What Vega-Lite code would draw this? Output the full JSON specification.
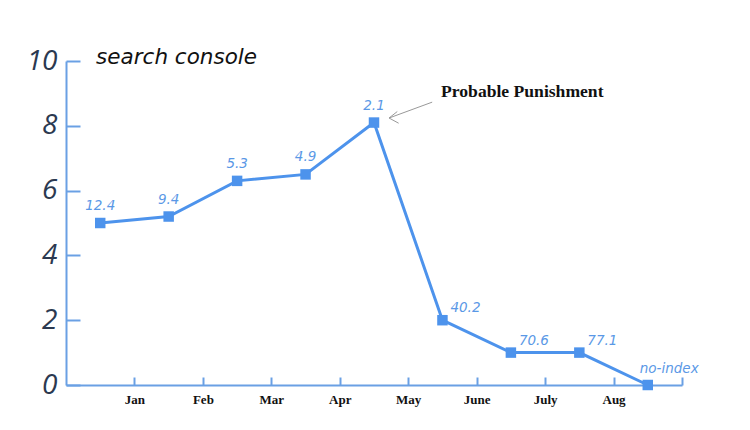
{
  "$schema": "https://vega.github.io/schema/vega-lite/v6.json",
  "width": 616,
  "height": 324,
  "autosize": {"type": "none"},
  "padding": {"left": 66, "top": 61, "right": 68, "bottom": 45},
  "background": "white",
  "config": {"view": {"stroke": null}},
  "datasets": {
    "series": [
      {"pos": 0.5, "value": 5.0, "label": "12.4", "group": "above"},
      {"pos": 1.5, "value": 5.2, "label": "9.4", "group": "above"},
      {"pos": 2.5, "value": 6.3, "label": "5.3", "group": "above"},
      {"pos": 3.5, "value": 6.5, "label": "4.9", "group": "above"},
      {"pos": 4.5, "value": 8.1, "label": "2.1", "group": "above"},
      {"pos": 5.5, "value": 2.0, "label": "40.2", "group": "right"},
      {"pos": 6.5, "value": 1.0, "label": "70.6", "group": "right"},
      {"pos": 7.5, "value": 1.0, "label": "77.1", "group": "right"},
      {"pos": 8.5, "value": 0.0, "label": "no-index", "group": "end"}
    ],
    "arrow": [
      {"x": 5.35, "y": 8.73, "x2": 4.72, "y2": 8.24},
      {"x": 4.84, "y": 8.44, "x2": 4.72, "y2": 8.24},
      {"x": 4.86, "y": 8.08, "x2": 4.72, "y2": 8.24}
    ]
  },
  "layer": [
    {
      "data": {"name": "series"},
      "mark": {"type": "line", "color": "#4d93ec", "strokeWidth": 3},
      "encoding": {
        "x": {
          "field": "pos", "type": "quantitative",
          "scale": {"domain": [0, 9]},
          "axis": {
            "values": [1, 2, 3, 4, 5, 6, 7, 8, 9],
            "labelExpr": "['', 'Jan', 'Feb', 'Mar', 'Apr', 'May', 'June', 'July', 'Aug', ''][datum.value]",
            "title": null, "grid": false,
            "domainColor": "#6aa0e4", "domainWidth": 2,
            "tickColor": "#6aa0e4", "tickWidth": 2, "tickSize": -8,
            "labelPadding": 16, "labelFont": "Liberation Serif", "labelFontWeight": "bold",
            "labelFontSize": 13, "labelColor": "#111111"
          }
        },
        "y": {
          "field": "value", "type": "quantitative",
          "scale": {"domain": [0, 10]},
          "axis": {
            "values": [0, 2, 4, 6, 8, 10],
            "title": null, "grid": false,
            "domainColor": "#6aa0e4", "domainWidth": 2,
            "tickColor": "#6aa0e4", "tickWidth": 2, "tickSize": -14,
            "labelPadding": 23, "labelFont": "Open Sans", "labelFontStyle": "italic",
            "labelFontWeight": 500, "labelFontSize": 28, "labelColor": "#2b3950"
          }
        }
      }
    },
    {
      "data": {"name": "series"},
      "mark": {"type": "point", "shape": "square", "filled": true, "size": 110, "color": "#4d93ec", "opacity": 1},
      "encoding": {
        "x": {"field": "pos", "type": "quantitative"},
        "y": {"field": "value", "type": "quantitative"}
      }
    },
    {
      "data": {"name": "series"},
      "transform": [{"filter": "datum.group === 'above'"}],
      "mark": {"type": "text", "dy": -17, "font": "DejaVu Sans", "fontStyle": "italic", "fontSize": 13.5, "color": "#5a98e6"},
      "encoding": {
        "x": {"field": "pos", "type": "quantitative"},
        "y": {"field": "value", "type": "quantitative"},
        "text": {"field": "label"}
      }
    },
    {
      "data": {"name": "series"},
      "transform": [{"filter": "datum.group === 'right'"}],
      "mark": {"type": "text", "align": "left", "dx": 8, "dy": -12, "font": "DejaVu Sans", "fontStyle": "italic", "fontSize": 13.5, "color": "#5a98e6"},
      "encoding": {
        "x": {"field": "pos", "type": "quantitative"},
        "y": {"field": "value", "type": "quantitative"},
        "text": {"field": "label"}
      }
    },
    {
      "data": {"name": "series"},
      "transform": [{"filter": "datum.group === 'end'"}],
      "mark": {"type": "text", "align": "left", "dx": -8, "dy": -16, "font": "DejaVu Sans", "fontStyle": "italic", "fontSize": 13.5, "color": "#5a98e6"},
      "encoding": {
        "x": {"field": "pos", "type": "quantitative"},
        "y": {"field": "value", "type": "quantitative"},
        "text": {"field": "label"}
      }
    },
    {
      "data": {"name": "arrow"},
      "mark": {"type": "rule", "color": "#999999", "strokeWidth": 1},
      "encoding": {
        "x": {"field": "x", "type": "quantitative"},
        "y": {"field": "y", "type": "quantitative"},
        "x2": {"field": "x2"},
        "y2": {"field": "y2"}
      }
    },
    {
      "data": {"values": [{"x": 5.48, "y": 9.04, "text": "Probable Punishment"}]},
      "mark": {"type": "text", "align": "left", "baseline": "middle", "font": "Liberation Serif", "fontWeight": "bold", "fontSize": 17.6, "color": "#111111"},
      "encoding": {
        "x": {"field": "x", "type": "quantitative"},
        "y": {"field": "y", "type": "quantitative"},
        "text": {"field": "text"}
      }
    },
    {
      "data": {"values": [{"x": 0.44, "y": 10.1, "text": "search console"}]},
      "mark": {"type": "text", "align": "left", "baseline": "middle", "font": "DejaVu Sans", "fontStyle": "italic", "fontSize": 21.5, "color": "#111111"},
      "encoding": {
        "x": {"field": "x", "type": "quantitative"},
        "y": {"field": "y", "type": "quantitative"},
        "text": {"field": "text"}
      }
    }
  ]
}
